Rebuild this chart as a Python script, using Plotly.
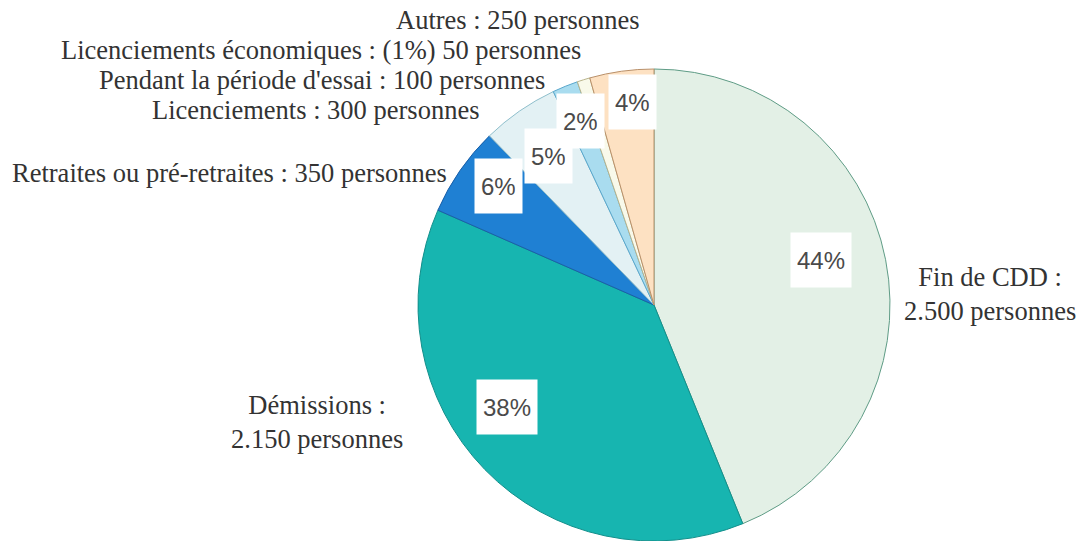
import plotly.graph_objects as go

W, H = 1083, 541

# ---- data ----
categories = ["Fin de CDD", "Démissions", "Retraites ou pré-retraites", "Licenciements",
              "Pendant la période d'essai", "Licenciements économiques", "Autres"]
values = [2500, 2150, 350, 300, 100, 50, 250]
outside_labels = [
    "Fin de CDD :<br>2.500 personnes",
    "Démissions :<br>2.150 personnes",
    "Retraites ou pré-retraites : 350 personnes",
    "Licenciements : 300 personnes",
    "Pendant la période d'essai : 100 personnes",
    "Licenciements économiques : (1%) 50 personnes",
    "Autres : 250 personnes",
]
show_pct = [True, True, True, True, True, False, True]

# ---- styles ----
colors = ["#e3f0e6", "#17b5b0", "#1f80d3", "#e3f1f4", "#a9dcef", "#f8f9ea", "#fde1c2"]
edge = ["#5f9c86", "#138f8b", "#1a5fa8", "#8fbfcc", "#5aa7cc", "#b8b38a", "#b9906a"]

# pie geometry in pixels
cx, cy, r = 654, 305, 236

# label positions (pixels)
pct_pos = [(821, 260), (507, 407), (498, 186), (548, 156), (580, 121), None, (632, 102)]
out_pos = [(990, 294), (317, 422), (229, 173), (315, 110), (322, 80), (321, 50), (518, 20)]

total = sum(values)

fig = go.Figure(go.Pie(
    labels=categories, values=values, sort=False, direction="clockwise", rotation=0,
    marker=dict(colors=colors, line=dict(color=edge, width=1)),
    textinfo="none", hoverinfo="label+value+percent", showlegend=False,
    domain=dict(x=[(cx - r) / W, (cx + r) / W],
                y=[max(0, (H - cy - r) / H), (H - cy + r) / H]),
))

ann = []
for v, p, s in zip(values, pct_pos, show_pct):
    if not s or p is None:
        continue
    ann.append(dict(x=p[0] / W, y=1 - p[1] / H, xref="paper", yref="paper",
                    xanchor="center", yanchor="middle",
                    text=f"{round(v / total * 100)}%", showarrow=False,
                    bgcolor="white", borderpad=6, height=42,
                    font=dict(family="Liberation Sans", size=24, color="#4a4a4a")))
for t, (x, y) in zip(outside_labels, out_pos):
    ann.append(dict(x=x / W, y=1 - y / H, xref="paper", yref="paper", text=t,
                    showarrow=False, align="center", xanchor="center", yanchor="middle",
                    font=dict(family="Liberation Serif", size=26.5, color="#333333")))

fig.update_layout(width=W, height=H, margin=dict(l=0, r=0, t=0, b=0),
                  paper_bgcolor="white", plot_bgcolor="white", annotations=ann)
fig.write_html("out.html", config={"displayModeBar": False},
               post_script="document.body.style.margin='0';")
